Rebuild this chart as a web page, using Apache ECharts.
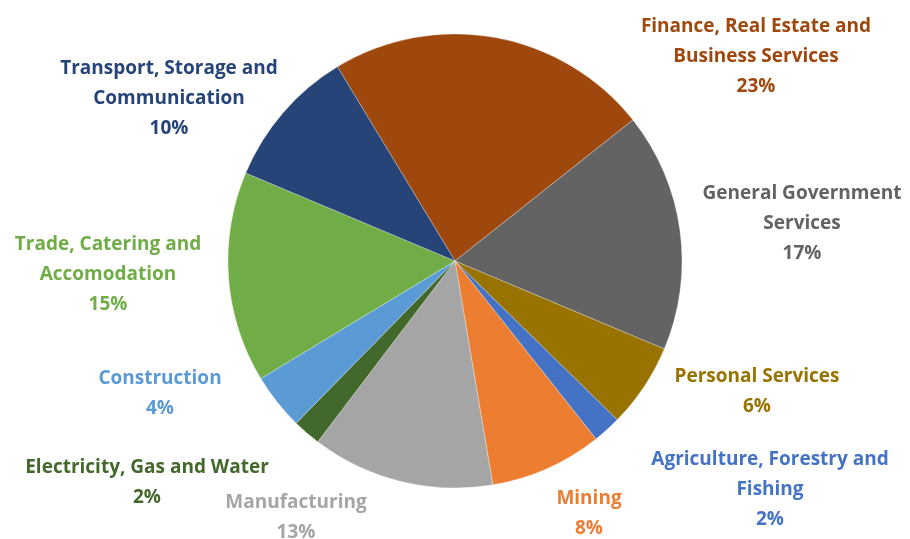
<!DOCTYPE html>
<html>
<head>
<meta charset="utf-8">
<script src="https://cdn.jsdelivr.net/npm/echarts@6/dist/echarts.min.js"></script>
<style>
  html, body { margin: 0; padding: 0; background: #fff; }
  #chart { width: 910px; height: 539px; }
</style>
</head>
<body>
<div id="chart"></div>
<script>
// Sector shares of output, in percent, listed clockwise from the top
const sectors = [
  'Finance, Real Estate and\nBusiness Services',
  'General Government\nServices',
  'Personal Services',
  'Agriculture, Forestry and\nFishing',
  'Mining',
  'Manufacturing',
  'Electricity, Gas and Water',
  'Construction',
  'Trade, Catering and\nAccomodation',
  'Transport, Storage and\nCommunication'
];
const shares = [23, 17, 6, 2, 8, 13, 2, 4, 15, 10];

// Slice and label colours per sector
const colors = [
  '#9E480E', '#636363', '#997300', '#4472C4', '#ED7D31',
  '#A5A5A5', '#43682B', '#5B9BD5', '#70AD47', '#264478'
];

// Centre point of each label block
const labelCenters = [
  [756, 57], [802, 224], [757, 392], [770, 490], [589, 514],
  [296, 518], [147, 483], [160, 394], [108, 275], [169, 99]
];

const chart = echarts.init(document.getElementById('chart'));
chart.setOption({
  animation: false,
  series: [{
    type: 'pie',
    center: [455, 261],
    radius: 227,
    startAngle: 121.2,
    clockwise: true,
    data: sectors.map((name, i) => ({
      name: name,
      value: shares[i],
      itemStyle: { color: colors[i] },
      label: { color: colors[i] }
    })),
    itemStyle: { borderColor: 'rgba(255,255,255,0.35)', borderWidth: 0.8 },
    label: {
      show: true,
      position: 'outside',
      formatter: p => p.name + '\n' + Math.round(p.percent) + '%',
      fontFamily: 'Open Sans',
      fontWeight: 'bold',
      fontSize: 19,
      lineHeight: 30,
      align: 'center',
      overflow: 'none'
    },
    labelLine: { show: false },
    labelLayout: p => ({
      x: labelCenters[p.dataIndex][0],
      y: labelCenters[p.dataIndex][1],
      align: 'center',
      verticalAlign: 'middle'
    })
  }]
});
</script>
</body>
</html>
